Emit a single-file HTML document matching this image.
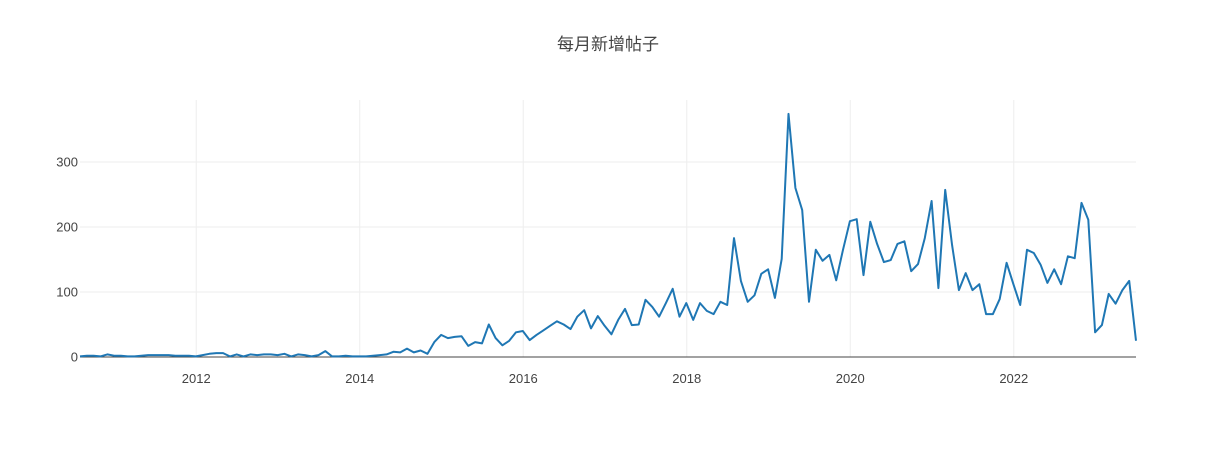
<!DOCTYPE html>
<html><head><meta charset="utf-8"><style>
body{margin:0;background:#fff}
svg text{font-family:"Liberation Sans","Noto Sans CJK SC",sans-serif;fill:#444}
</style></head><body>
<svg width="1216" height="450" id="c">
<text x="608" y="50" text-anchor="middle" font-size="17">每月新增帖子</text>
<g id="grid"></g><g id="axes"></g><g id="series"></g>
</svg>
<script>
const startYear = 2010, startMonth = 7;
const postCounts = [1,2,2,1,4,
2,2,1,1,2,3,3,3,3,2,2,2,
1,3,5,6,6,1,4,1,4,3,4,4,
3,5,1,4,3,1,3,9,1,1,2,1,
1,1,2,3,4,8,7,13,7,10,
5,23,34,29,31,32,17,23,21,50,29,18,25,38,40,26,34,41,48,55,50,43,62,72,44,63,48,35,57,74,49,50,88,77,62,83,105,62,83,57,83,71,66,85,80,183,117,85,95,128,135,91,151,374,260,226,85,165,148,157,118,165,209,212,126,208,174,146,149,174,178,132,143,183,240,106,257,172,103,129,103,112,66,66,89,145,112,80,165,160,142,114,135,112,155,152,237,211,38,49,97,82,103,117,25];
const yTicks = [0,100,200,300];
const xTicks = [2012,2014,2016,2018,2020,2022];
const L=80,R=1136,T=100,B=357;
const x0=startYear+(startMonth)/12-0.005, x1=x0+(postCounts.length-1)/12;
const X=t=>L+(t-x0)/(x1-x0)*(R-L);
const Y=v=>B-v*0.65;
const ns='http://www.w3.org/2000/svg';
const grid=document.getElementById('grid'),axes=document.getElementById('axes'),ser=document.getElementById('series');
function mk(tag,attrs,parent){const e=document.createElementNS(ns,tag);for(const k in attrs)e.setAttribute(k,attrs[k]);parent.appendChild(e);return e;}
yTicks.forEach(v=>{
 if(v>0){const g=mk('line',{x1:L,x2:R,y1:Y(v),y2:Y(v),stroke:'#eee','stroke-width':1},grid);
 
 }
 const t=mk('text',{x:L-2,y:Y(v)+4.5,'text-anchor':'end','font-size':13},axes);t.textContent=v;
 
 
});
xTicks.forEach(yr=>{
 const g=mk('line',{x1:X(yr),x2:X(yr),y1:T,y2:B,stroke:'#eee','stroke-width':1},grid);
 
 
 const t=mk('text',{x:X(yr),y:383,'text-anchor':'middle','font-size':13},axes);t.textContent=yr;
 
 
});
const z=mk('line',{x1:L,x2:R,y1:B,y2:B,stroke:'#444','stroke-width':1},axes);


const pts=postCounts.map((v,i)=>X(x0+i/12).toFixed(1)+','+Y(v).toFixed(1)).join(' ');
const p=mk('polyline',{points:pts,fill:'none',stroke:'#1f77b4','stroke-width':2,'stroke-linejoin':'round'},ser);


</script>
</body></html>
